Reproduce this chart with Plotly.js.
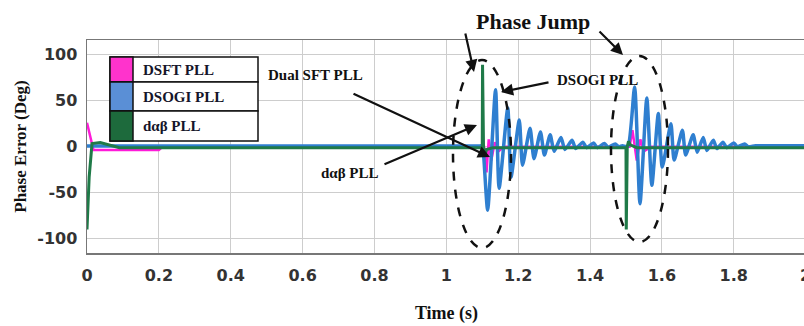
<!DOCTYPE html>
<html>
<head>
<meta charset="utf-8">
<script src="https://cdn.plot.ly/plotly-3.0.1.min.js"></script>
<style>
html,body{margin:0;padding:0;overflow:hidden;background:#fff;width:804px;height:326px;}
#chart{width:810px;height:326px;}
</style>
</head>
<body>
<div id="chart"></div>
<script>
// ---- data ----
var dsftT = [0, 0.018, 0.2, 0.21, 1.1, 1.105, 1.112, 1.118, 1.125, 1.135, 1.145, 1.16, 1.5, 1.51, 1.518, 1.524, 1.53, 1.54, 1.55, 1.57, 2.0];
var dsftV = [26, -3.5, -3.5, 0, 0, 0, -28, 8, -15, 5, -5, 0, 0, 0, 18, 4, -15, 8, -5, 0, 0];

var dsogiT = [0, 0.3, 0.6, 0.9, 1.05, 1.09, 1.1, 1.103, 1.115, 1.137, 1.147, 1.171, 1.18, 1.203, 1.212, 1.233, 1.244, 1.262, 1.273, 1.289, 1.300, 1.319, 1.33, 1.35, 1.36, 1.38, 1.39, 1.41, 1.42, 1.44, 1.45, 1.47, 1.48, 1.49,
              1.505, 1.524, 1.539, 1.558, 1.572, 1.590, 1.601, 1.625, 1.634, 1.657, 1.666, 1.687, 1.698, 1.715, 1.725, 1.743, 1.753, 1.77, 1.78, 1.80, 1.81, 1.83, 1.84, 1.86, 1.9, 1.95, 2.0];
var dsogiV = [0.8, 0.8, 0.8, 0.8, 0.8, 0.8, 0.8, -5, -69, 62, -45, 42, -33, 29, -20, 20, -13, 16, -9, 13, -5, 10, -3, 7, -2, 5, -1, 4, -1, 3.5, -0.5, 3, 0, 1,
              0.5, 65, -62, 53, -42, 36, -22, 25, -14.5, 18, -9, 13, -6, 10, -4, 7, -2, 5, -1, 4, 0, 3, 0, 1, 1, 1, 1];

var dabT = [0, 0.006, 0.014, 0.037, 0.09, 1.1, 1.1008, 1.1035, 1.107, 1.112, 1.13, 1.5, 1.5008, 1.5035, 1.507, 1.512, 1.53, 2.0];
var dabV = [-90, -33, 3.5, 4.5, -1, -1, 89, 0, -9, -3, -1, -1, -90, 0, 6, 2, -1, -1];

var seriesNames = ['DSFT PLL', 'DSOGI PLL', 'd\u03b1\u03b2 PLL'];
var xTickVals = [0, 0.2, 0.4, 0.6, 0.8, 1, 1.2, 1.4, 1.6, 1.8, 2];
var xTickText = ['0', '0.2', '0.4', '0.6', '0.8', '1', '1.2', '1.4', '1.6', '1.8', '2'];
var yTickVals = [-100, -50, 0, 50, 100];
var yTickText = ['-100', '-50', '0', '50', '100'];

// ---- styling / layout ----
var lineColors = ['#ff1ad9', '#2f7fd0', '#1f7a48'];
var swatchColors = ['#ff33cc', '#5a8fd6', '#1d6a3c'];
var serif = "'Liberation Serif', 'Times New Roman', serif";
var sans = "'DejaVu Sans', 'Liberation Sans', sans-serif";

var W = 810, H = 326, L = 87, R = 4, T = 40, B = 73;
var pw = W - L - R, ph = H - T - B;
function px(x) { return (x - L) / pw; }
function py(y) { return (H - B - y) / ph; }

var traces = [
  {x: dsftT, y: dsftV, name: seriesNames[0], mode: 'lines', line: {color: lineColors[0], width: 2.5}},
  {x: dsogiT, y: dsogiV, name: seriesNames[1], mode: 'lines', line: {color: lineColors[1], width: 3.5, shape: 'spline', smoothing: 0.6}},
  {x: dabT, y: dabV, name: seriesNames[2], mode: 'lines', line: {color: lineColors[2], width: 3}}
];

var shapes = [];
var annotations = [];

// table-like legend
var lgX0 = 110, lgX1 = 258, lgSw = 133, rows = [57, 82, 111, 141];
for (var i = 0; i < 3; i++) {
  shapes.push({type: 'rect', xref: 'paper', yref: 'paper', layer: 'above',
    x0: px(lgX0), x1: px(lgX1), y0: py(rows[i + 1]), y1: py(rows[i]),
    fillcolor: '#ffffff', line: {color: '#111', width: 1.5}});
  shapes.push({type: 'rect', xref: 'paper', yref: 'paper', layer: 'above',
    x0: px(lgX0), x1: px(lgSw), y0: py(rows[i + 1]), y1: py(rows[i]),
    fillcolor: swatchColors[i], line: {color: '#111', width: 1.5}});
  annotations.push({xref: 'paper', yref: 'paper', x: px(141), y: py((rows[i] + rows[i + 1]) / 2),
    xanchor: 'left', yanchor: 'middle', showarrow: false, text: seriesNames[i],
    font: {family: serif, size: 15, color: '#15152a', weight: 'bold'}});
}

// dashed ellipses
shapes.push({type: 'circle', xref: 'paper', yref: 'paper', layer: 'above',
  x0: px(453), x1: px(511), y0: py(248), y1: py(60), line: {color: '#111', width: 2.5, dash: 'dash'}});
shapes.push({type: 'circle', xref: 'paper', yref: 'paper', layer: 'above',
  x0: px(611), x1: px(668), y0: py(242), y1: py(56), line: {color: '#111', width: 2.5, dash: 'dash'}});

// text labels
var labels = [
  {text: 'Phase Jump', x: 533, y: 21, size: 22},
  {text: 'DSOGI PLL', x: 597, y: 80, size: 15},
  {text: 'Dual SFT PLL', x: 315, y: 75, size: 15},
  {text: 'd\u03b1\u03b2 PLL', x: 350, y: 173, size: 15}
];
labels.forEach(function (l) {
  annotations.push({xref: 'paper', yref: 'paper', x: px(l.x), y: py(l.y), xanchor: 'center', yanchor: 'middle',
    showarrow: false, text: l.text, font: {family: serif, size: l.size, color: '#111', weight: 'bold'}});
});

// arrows (tip, tail in page pixels)
var arrows = [
  [474, 72, 465, 32],
  [623, 55, 598, 30],
  [501, 92, 550, 82],
  [490, 157, 352, 93],
  [477, 125, 383, 165]
];
arrows.forEach(function (a) {
  annotations.push({xref: 'paper', yref: 'paper', x: px(a[0]), y: py(a[1]), ax: a[2] - a[0], ay: a[3] - a[1],
    text: '', showarrow: true, arrowhead: 2, arrowsize: 1.1, arrowwidth: 2.2, arrowcolor: '#111'});
});

var layout = {
  width: W, height: H,
  margin: {l: L, r: R, t: T, b: B},
  paper_bgcolor: '#fff', plot_bgcolor: '#fff',
  showlegend: false,
  xaxis: {
    range: [0, 2.001], tickvals: xTickVals, ticktext: xTickText,
    ticklabeloverflow: 'allow',
    showgrid: true, gridcolor: '#cdcdcd', gridwidth: 1, zeroline: false,
    showline: true, mirror: true, linecolor: '#777', linewidth: 1.5,
    ticks: 'outside', ticklen: 7, tickcolor: 'rgba(0,0,0,0)',
    tickfont: {family: sans, size: 16, color: '#333', weight: 'bold'},
    title: {text: 'Time (s)', font: {family: serif, size: 18, color: '#111', weight: 'bold'}, standoff: 22}
  },
  yaxis: {
    range: [-115.5, 116], tickvals: yTickVals, ticktext: yTickText,
    showgrid: true, gridcolor: '#cdcdcd', gridwidth: 1, zeroline: false,
    showline: true, mirror: true, linecolor: '#777', linewidth: 1.5,
    ticks: 'outside', ticklen: 5, tickcolor: 'rgba(0,0,0,0)',
    tickfont: {family: sans, size: 16, color: '#333', weight: 'bold'},
    title: {text: 'Phase Error (Deg)', font: {family: serif, size: 17, color: '#111', weight: 'bold'}, standoff: 6}
  },
  shapes: shapes,
  annotations: annotations
};

Plotly.newPlot('chart', traces, layout, {displayModeBar: false, staticPlot: true});
</script>
</body>
</html>
